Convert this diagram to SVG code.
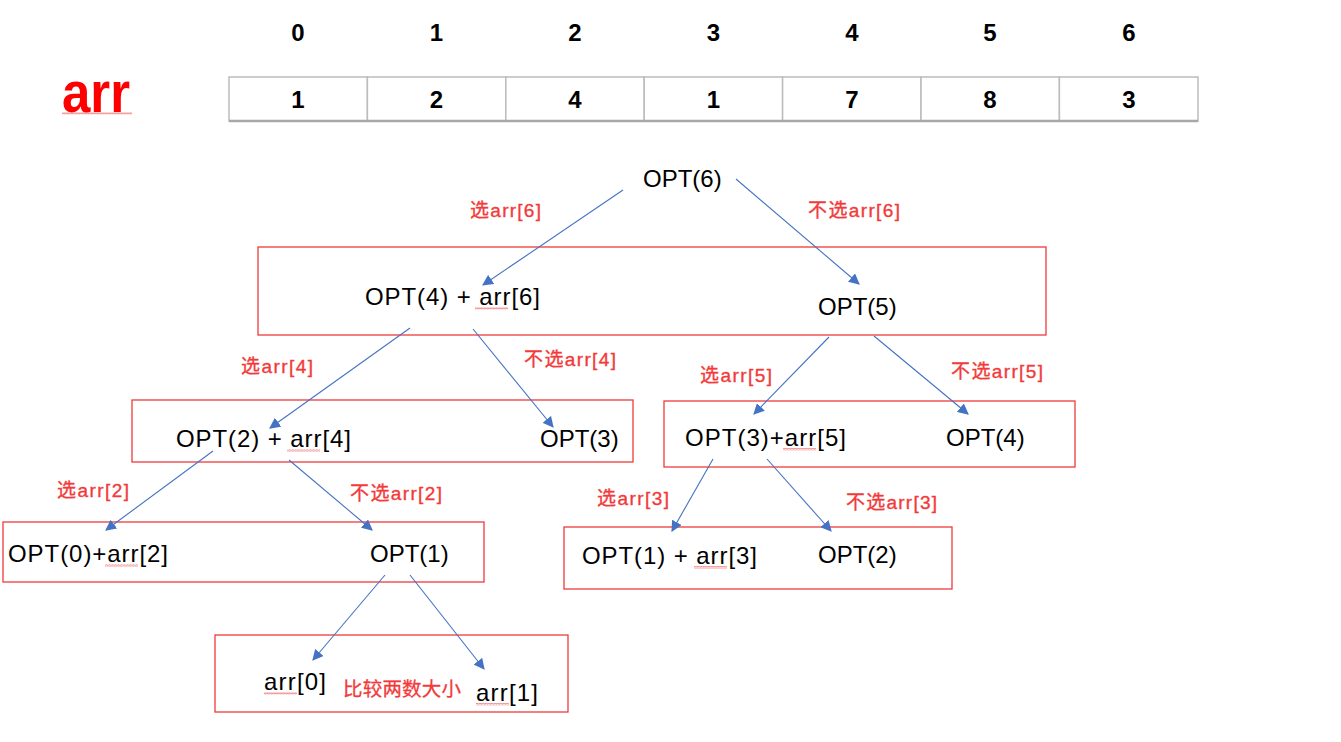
<svg xmlns="http://www.w3.org/2000/svg" width="1341" height="742" viewBox="0 0 1341 742">
<style>
.t{font-family:"Liberation Sans",Arial,sans-serif;font-size:24px;fill:#000}
.h{font-family:"Liberation Sans",Arial,sans-serif;font-size:24px;fill:#000;font-weight:bold;text-anchor:middle}
.l{font-family:"Liberation Sans","Noto Sans CJK SC",sans-serif;font-size:19px;fill:#f23a3a;stroke:#f23a3a;stroke-width:0.35}
.box{fill:none;stroke:#ee3b3b;stroke-width:1.3}
.cell{fill:#fff;stroke:#bcbcbc;stroke-width:1.5}
.edge{stroke:#4472c4;stroke-width:1.1;fill:none;marker-end:url(#ah)}
</style>
<defs>
<marker id="ah" viewBox="0 0 10 10" refX="9" refY="5" markerWidth="11" markerHeight="11" markerUnits="userSpaceOnUse" orient="auto">
<path d="M0,0 L10,5 L0,10 Z" fill="#4472c4"/>
</marker>
<pattern id="wave" width="3" height="2.5" patternUnits="userSpaceOnUse">
<path d="M0,2 L0.75,0.5 L1.5,2 L2.25,0.5 L3,2" fill="none" stroke="#e55" stroke-width="0.6"/>
</pattern>
</defs>
<rect width="1341" height="742" fill="#fff"/>

<g id="array">
<text x="62" y="112" font-family="Liberation Sans,Arial,sans-serif" font-size="58" font-weight="bold" fill="#f00" textLength="68" lengthAdjust="spacingAndGlyphs">arr</text>
<rect x="62" y="112" width="70" height="2.5" fill="url(#wave)"/>
<g>
<rect class="cell" x="229" y="77" width="138.4" height="44"/>
<rect class="cell" x="367.4" y="77" width="138.4" height="44"/>
<rect class="cell" x="505.8" y="77" width="138.4" height="44"/>
<rect class="cell" x="644.2" y="77" width="138.4" height="44"/>
<rect class="cell" x="782.6" y="77" width="138.4" height="44"/>
<rect class="cell" x="921" y="77" width="138.4" height="44"/>
<rect class="cell" x="1059.4" y="77" width="138.6" height="44"/>
<line x1="229" y1="121" x2="1198" y2="121" stroke="#a8a8a8" stroke-width="2.5"/>
</g>
<text class="h" x="298" y="41">0</text>
<text class="h" x="436.5" y="41">1</text>
<text class="h" x="575" y="41">2</text>
<text class="h" x="713.5" y="41">3</text>
<text class="h" x="852" y="41">4</text>
<text class="h" x="990" y="41">5</text>
<text class="h" x="1129" y="41">6</text>
<text class="h" x="298" y="108">1</text>
<text class="h" x="436.5" y="108">2</text>
<text class="h" x="575" y="108">4</text>
<text class="h" x="713.5" y="108">1</text>
<text class="h" x="852" y="108">7</text>
<text class="h" x="990" y="108">8</text>
<text class="h" x="1129" y="108">3</text>
</g>

<g id="n-opt6">
<text class="t" x="643" y="187">OPT(6)</text>
</g>

<g id="n-level1">
<rect class="box" x="258" y="247" width="788" height="88"/>
<text class="t" x="365" y="305" textLength="175">OPT(4) + arr[6]</text>
<rect x="475" y="307" width="33" height="2.5" fill="url(#wave)"/>
<text class="t" x="818" y="315">OPT(5)</text>
</g>

<g id="n-level2a">
<rect class="box" x="132" y="400" width="501" height="62"/>
<text class="t" x="176" y="447" textLength="175">OPT(2) + arr[4]</text>
<rect x="287" y="449" width="33" height="2.5" fill="url(#wave)"/>
<text class="t" x="540" y="447">OPT(3)</text>
</g>

<g id="n-level2b">
<rect class="box" x="664" y="401" width="411" height="66"/>
<text class="t" x="685" y="446" textLength="161">OPT(3)+arr[5]</text>
<rect x="783" y="448" width="33" height="2.5" fill="url(#wave)"/>
<text class="t" x="946" y="446">OPT(4)</text>
</g>

<g id="n-level3a">
<rect class="box" x="3" y="522" width="481" height="60"/>
<text class="t" x="8" y="562" textLength="160">OPT(0)+arr[2]</text>
<rect x="105" y="564" width="33" height="2.5" fill="url(#wave)"/>
<text class="t" x="370" y="562">OPT(1)</text>
</g>

<g id="n-level3b">
<rect class="box" x="564" y="527" width="388" height="62"/>
<text class="t" x="582" y="564" textLength="175">OPT(1) + arr[3]</text>
<rect x="694" y="566" width="33" height="2.5" fill="url(#wave)"/>
<text class="t" x="818" y="563">OPT(2)</text>
</g>

<g id="n-level4">
<rect class="box" x="215" y="635" width="353" height="77"/>
<text class="t" x="264" y="690" textLength="62">arr[0]</text>
<rect x="264" y="692" width="33" height="2.5" fill="url(#wave)"/>
<text x="343" y="696" font-family="Noto Sans CJK SC,sans-serif" font-size="19.5" fill="#f23a3a" stroke="#f23a3a" stroke-width="0.3" textLength="118">比较两数大小</text>
<text class="t" x="476" y="701" textLength="62">arr[1]</text>
<rect x="476" y="703" width="33" height="2.5" fill="url(#wave)"/>
</g>

<g id="connectors">
<line class="edge" x1="623" y1="190" x2="483" y2="285"/>
<line class="edge" x1="736" y1="179" x2="859" y2="284"/>
<line class="edge" x1="410" y1="328" x2="270" y2="428"/>
<line class="edge" x1="473" y1="329" x2="553" y2="427"/>
<line class="edge" x1="829" y1="337" x2="754" y2="414"/>
<line class="edge" x1="874" y1="336" x2="968" y2="414"/>
<line class="edge" x1="213" y1="451" x2="106" y2="530"/>
<line class="edge" x1="289" y1="460" x2="372" y2="530"/>
<line class="edge" x1="713" y1="459" x2="672" y2="531"/>
<line class="edge" x1="767" y1="459" x2="831" y2="531"/>
<line class="edge" x1="385" y1="575" x2="313" y2="660"/>
<line class="edge" x1="410" y1="575" x2="484" y2="669"/>
</g>

<g id="labels">
<text class="l" x="470" y="217" textLength="71">选arr[6]</text>
<text class="l" x="808" y="217" textLength="92">不选arr[6]</text>
<text class="l" x="241" y="373" textLength="72">选arr[4]</text>
<text class="l" x="524" y="366" textLength="92">不选arr[4]</text>
<text class="l" x="700" y="382" textLength="72">选arr[5]</text>
<text class="l" x="951" y="378" textLength="92">不选arr[5]</text>
<text class="l" x="57" y="497" textLength="72">选arr[2]</text>
<text class="l" x="350" y="500" textLength="92">不选arr[2]</text>
<text class="l" x="597" y="505" textLength="72">选arr[3]</text>
<text class="l" x="846" y="509" textLength="91">不选arr[3]</text>
</g>
</svg>
